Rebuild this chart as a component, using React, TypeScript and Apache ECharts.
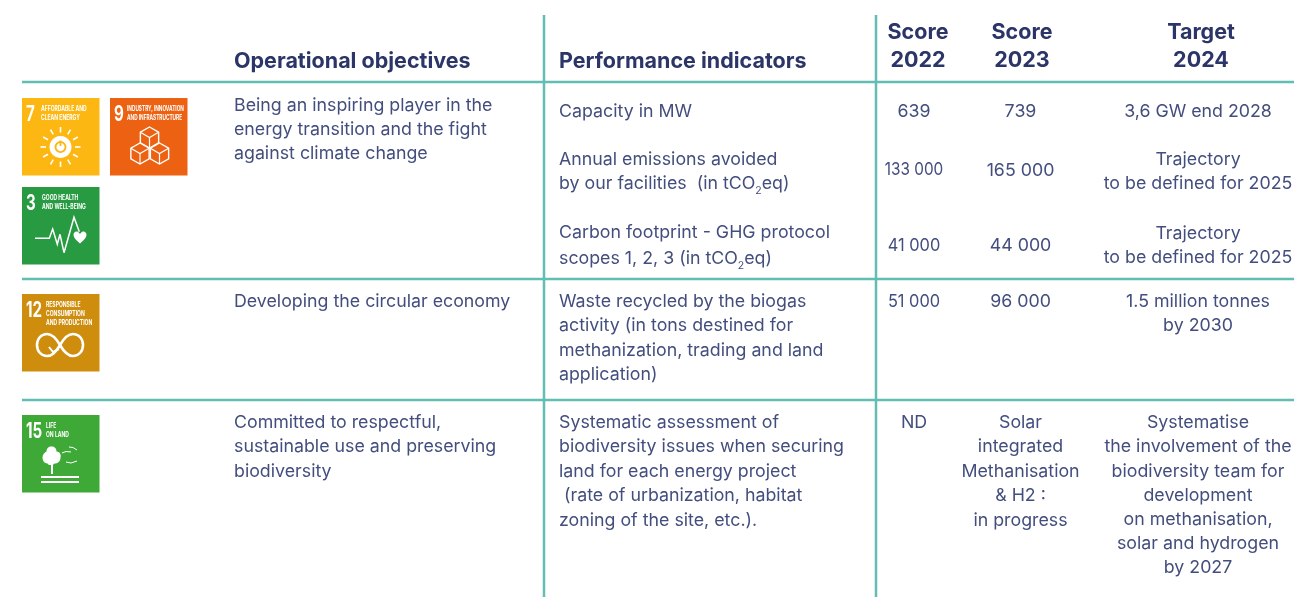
import React, { useEffect, useRef } from "react";
import * as echarts from "echarts";

const headObjectives = "Operational objectives";
const headIndicators = "Performance indicators";
const headScore22 = ["Score", "2022"];
const headScore23 = ["Score", "2023"];
const headTarget = ["Target", "2024"];

const objectives = [
  "Being an inspiring player in the", "energy transition and the fight", "against climate change",
  "Developing the circular economy",
  "Committed to respectful,", "sustainable use and preserving", "biodiversity",
];
const indicators = [
  "Capacity in MW",
  "Annual emissions avoided", "by our facilities  (in tCO{s|2}eq)",
  "Carbon footprint - GHG protocol", "scopes 1, 2, 3 (in tCO{s|2}eq)",
  "Waste recycled by the biogas", "activity (in tons destined for", "methanization, trading and land", "application)",
  "Systematic assessment of", "biodiversity issues when securing", "land for each energy project", " (rate of urbanization, habitat", "zoning of the site, etc.).",
];
const score22 = ["639", "133 000", "41 000", "51 000", "ND"];
const score23 = ["739", "165 000", "44 000", "96 000", "Solar", "integrated", "Methanisation", "& H2 :", "in progress"];
const target24 = [
  "3,6 GW end 2028", "Trajectory", "to be defined for 2025", "Trajectory", "to be defined for 2025",
  "1.5 million tonnes", "by 2030",
  "Systematise", "the involvement of the", "biodiversity team for", "development", "on methanisation,", "solar and hydrogen", "by 2027",
];

const objectivesY = [105, 129, 153, 301, 422, 446, 471];
const indicatorsY = [111, 159, 183, 232, 258, 301, 325, 350, 374, 422, 446, 471, 495, 520];
const score22Y = [111, 170, 245, 301, 422];
const score22Scale = [1, 0.86, 0.92, 0.92, 1];
const score23Y = [111, 170, 245, 301, 422, 446, 471, 495, 520];
const target24Y = [111, 159, 183, 233, 257, 301, 325, 422, 446, 471, 495, 519, 543, 567];

const sdgIcons = [
  { n: "7", label: ["AFFORDABLE AND", "CLEAN ENERGY"], x: 22, y: 98, color: "#fdb713", lx: 19, ls: 0.72 },
  { n: "9", label: ["INDUSTRY, INNOVATION", "AND INFRASTRUCTURE"], x: 110, y: 98, color: "#ed6212", lx: 17, ls: 0.68 },
  { n: "3", label: ["GOOD HEALTH", "AND WELL-BEING"], x: 22, y: 187, color: "#289a41", lx: 20, ls: 0.72 },
  { n: "12", label: ["RESPONSIBLE", "CONSUMPTION", "AND PRODUCTION"], x: 22, y: 294, color: "#cf8d0e", lx: 24, ls: 0.72 },
  { n: "15", label: ["LIFE", "ON LAND"], x: 22, y: 415, color: "#3fa938", lx: 24, ls: 0.72 },
];

const TEAL = "#62bdb3";
const HEAD = "#2b3568";
const BODY = "#434e7e";
const FONT = "Inter";
const BODY_SIZE = 17.8;
const HEAD_SIZE = 21.5;

const heartPath = "M0 3.2C0 1 2.4-.8 4.6.6 5.6 1.2 6 2 6.5 2.8 7 2 7.4 1.2 8.4.6 10.6-.8 13 1 13 3.2 13 7 8.6 9.6 6.5 12 4.4 9.6 0 7 0 3.2Z";
const infinityPath = "M24 12C20 5 16 1 11 1 5 1 1 6 1 12 1 18 5 23 11 23 16 23 19 20 24 12 28 5 32 1 37 1 43 1 47 6 47 12 47 18 43 23 37 23 32 23 28 19 24 12";
const crownPath = "M9 0C12 0 14 2 14 5 17 5 19 8 18 11 18 15 15 17 12 17 10 19 6 19 5 17 2 17 0 14 0 11 0 8 2 6 4 5 4 2 6 0 9 0Z";
echarts.graphic.registerShape("sdgHeart", echarts.graphic.extendPath(heartPath, {}));
echarts.graphic.registerShape("sdgInfinity", echarts.graphic.extendPath(infinityPath, {}));
echarts.graphic.registerShape("sdgCrown", echarts.graphic.extendPath(crownPath, {}));

function txt(text: string, x: number, y: number, align: string, size: number, weight: number, fill: string, scaleX = 1) {
  return {
    type: "text", x, y, scaleX,
    style: {
      text, x: 0, y: 0, align, verticalAlign: "middle", fill,
      fontFamily: FONT, fontSize: size, fontWeight: weight,
      rich: {
        s: { fontFamily: FONT, fontSize: 10.5, fill, padding: [16, 0, 0, 0] },
      },
    },
  };
}
const wline = (x1: number, y1: number, x2: number, y2: number, w = 2) => ({
  type: "line", shape: { x1, y1, x2, y2 }, style: { stroke: "#fff", lineWidth: w },
});
const wpoly = (points: number[][], w = 1.3, fill?: string) => ({
  type: "polyline", shape: { points }, style: { stroke: "#fff", lineWidth: w, fill: fill || "none" },
});

function cube(cx: number, cy: number, r: number) {
  const dx = r * 0.87, dy = r * 0.5;
  return [
    { type: "polygon", shape: { points: [[cx, cy - r], [cx + dx, cy - dy], [cx + dx, cy + dy], [cx, cy + r], [cx - dx, cy + dy], [cx - dx, cy - dy]] }, style: { stroke: "#fff", lineWidth: 1.4, fill: "#ed6212" } },
    wpoly([[cx - dx, cy - dy], [cx, cy], [cx + dx, cy - dy]], 1.2),
    wline(cx, cy, cx, cy + r, 1.2),
  ];
}

function iconExtras() {
  const out: any[] = [];
  const cx = 60.5, cy = 147;
  for (let i = 0; i < 12; i++) {
    const a = (i * Math.PI) / 6;
    out.push(wline(cx + 14.5 * Math.cos(a), cy + 14.5 * Math.sin(a), cx + 20 * Math.cos(a), cy + 20 * Math.sin(a), 1.6));
  }
  out.push({ type: "circle", shape: { cx, cy, r: 11 }, style: { fill: "#fff" } });
  out.push({ type: "circle", shape: { cx, cy, r: 5 }, style: { fill: "none", stroke: "#fdb713", lineWidth: 1.8 } });
  out.push({ type: "line", shape: { x1: cx, y1: cy - 6.5, x2: cx, y2: cy - 1 }, style: { stroke: "#fdb713", lineWidth: 1.8 } });
  out.push(...cube(149.5, 137.5, 10.5), ...cube(140, 153.5, 10.5), ...cube(159.5, 153.5, 10.5));
  out.push(wpoly([[35, 238.3], [49.3, 238.3], [52.7, 229], [57.3, 244.3], [60, 234.3], [64, 252.7], [74, 217.3], [79.3, 231.7]], 1.5));
  out.push({ type: "sdgHeart", x: 73.5, y: 231.5, style: { fill: "#fff" } });
  out.push({ type: "sdgInfinity", x: 36, y: 333, style: { fill: "none", stroke: "#fff", lineWidth: 2.6 } });
  out.push(wpoly([[49, 347], [53, 352], [59, 349]], 2));
  out.push({ type: "sdgCrown", x: 42.5, y: 446.5, style: { fill: "#fff" } });
  out.push(wline(52, 462, 52, 474, 2));
  out.push(wline(41, 477, 79, 477, 1.8), wline(41, 482, 79, 482, 1.8));
  out.push(wpoly([[62, 453], [66, 451.5], [71, 452]], 1), wpoly([[69, 447], [73, 447.5], [77, 450]], 1), wpoly([[66, 462], [71, 463], [77, 461]], 1));
  return out;
}

function buildGraphic() {
  const els: any[] = [];
  [[22, 82, 1294, 82], [22, 279, 1294, 279], [22, 400, 1294, 400]].forEach(([x1, y1, x2, y2]) =>
    els.push({ type: "line", shape: { x1, y1, x2, y2 }, style: { stroke: TEAL, lineWidth: 2.5 } }));
  [[544, 15, 544, 597], [876, 15, 876, 597]].forEach(([x1, y1, x2, y2]) =>
    els.push({ type: "line", shape: { x1, y1, x2, y2 }, style: { stroke: TEAL, lineWidth: 2.5 } }));

  els.push(txt(headObjectives, 234, 59.5, "left", HEAD_SIZE, 700, HEAD));
  els.push(txt(headIndicators, 559, 59.5, "left", HEAD_SIZE, 700, HEAD));
  [[headScore22, 918], [headScore23, 1022], [headTarget, 1201]].forEach(([lines, x]: any) => {
    els.push(txt(lines[0], x, 30.5, "center", HEAD_SIZE, 700, HEAD));
    els.push(txt(lines[1], x, 58.5, "center", HEAD_SIZE, 700, HEAD));
  });

  const up = -1;
  objectives.forEach((t, i) => els.push(txt(t, 234, objectivesY[i] + up, "left", BODY_SIZE, 400, BODY)));
  indicators.forEach((t, i) => els.push(txt(t, 559, indicatorsY[i] + up, "left", BODY_SIZE, 400, BODY)));
  score22.forEach((t, i) => els.push(txt(t, 914, score22Y[i] + up, "center", BODY_SIZE, 400, BODY, score22Scale[i])));
  score23.forEach((t, i) => els.push(txt(t, 1020.5, score23Y[i] + up, "center", BODY_SIZE, 400, BODY)));
  target24.forEach((t, i) => els.push(txt(t, 1198, target24Y[i] + up, "center", BODY_SIZE, 400, BODY)));

  sdgIcons.forEach((ic) => {
    els.push({ type: "rect", shape: { x: ic.x, y: ic.y, width: 77.5, height: 77.5 }, style: { fill: ic.color } });
    els.push(txt(ic.n, ic.x + 4, ic.y + 15, "left", 21, 700, "#fff", 0.72));
    ic.label.forEach((l, j) =>
      els.push(txt(l, ic.x + ic.lx, ic.y + 10 + j * 9.3, "left", 7, 700, "#fff", ic.ls)));
  });
  els.push(...iconExtras());
  return els;
}

export default function App() {
  const ref = useRef<HTMLDivElement>(null);
  useEffect(() => {
    const chart = echarts.init(ref.current!, undefined, { renderer: "svg" });
    chart.setOption({ animation: false, backgroundColor: "#fff", graphic: { elements: buildGraphic() } });
    return () => chart.dispose();
  }, []);
  return <div ref={ref} style={{ position: "absolute", left: 0, top: 0, width: 1294, height: 597, filter: "blur(0.3px)" }} />;
}
